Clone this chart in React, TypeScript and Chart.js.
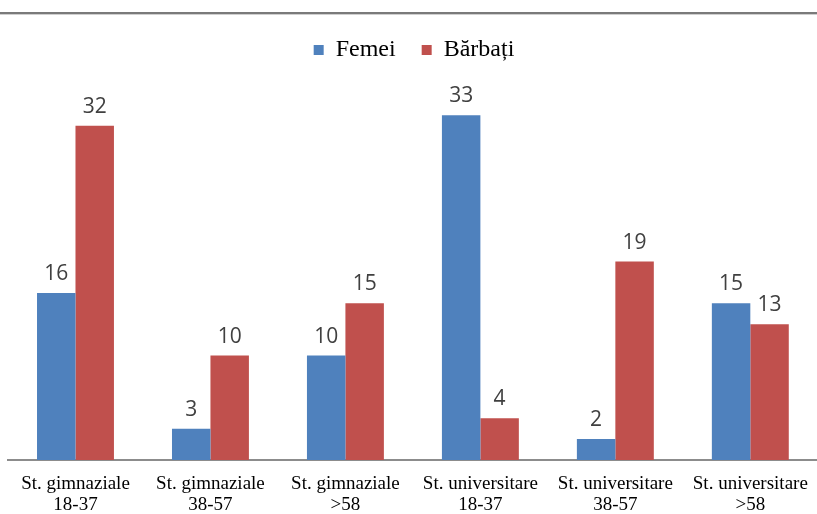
import { useEffect, useRef } from "react";
import { Chart, registerables } from "chart.js";

Chart.register(...registerables);

const categories: string[][] = [
  ["St. gimnaziale", "18-37"],
  ["St. gimnaziale", "38-57"],
  ["St. gimnaziale", ">58"],
  ["St. universitare", "18-37"],
  ["St. universitare", "38-57"],
  ["St. universitare", ">58"],
];
const seriesNames = ["Femei", "Bărbați"];
const femei = [16, 3, 10, 33, 2, 15];
const barbati = [32, 10, 15, 4, 19, 13];

const valueLabels = {
  id: "valueLabels",
  afterDatasetsDraw(chart: any) {
    const ctx = chart.ctx;
    ctx.save();
    ctx.font = '21px "Open Sans"';
    ctx.fillStyle = "#404040";
    ctx.textAlign = "center";
    ctx.textBaseline = "alphabetic";
    chart.data.datasets.forEach((ds: any, i: number) => {
      const meta = chart.getDatasetMeta(i);
      meta.data.forEach((el: any, j: number) => {
        ctx.fillText(String(ds.data[j]), el.x, el.y - 13);
      });
    });
    ctx.restore();
  },
};

export default function App() {
  const ref = useRef<HTMLCanvasElement | null>(null);
  useEffect(() => {
    document.body.style.margin = "0";
    if (!ref.current) return;
    const chart = new Chart(ref.current, {
      type: "bar",
      data: {
        labels: categories,
        datasets: [
          {
            label: seriesNames[0],
            data: femei,
            backgroundColor: "#4F81BD",
            borderWidth: 0,
            categoryPercentage: 0.57,
            barPercentage: 1,
          },
          {
            label: seriesNames[1],
            data: barbati,
            backgroundColor: "#C0504D",
            borderWidth: 0,
            categoryPercentage: 0.57,
            barPercentage: 1,
          },
        ],
      },
      options: {
        responsive: false,
        animation: false,
        devicePixelRatio: 1,
        layout: { padding: { top: 12, left: 8, right: 2, bottom: 0 } },
        plugins: {
          legend: {
            position: "top",
            labels: {
              boxWidth: 10,
              boxHeight: 10,
              padding: 26,
              color: "#000",
              font: { family: '"Liberation Serif"', size: 24 },
            },
          },
          tooltip: { enabled: false },
        },
        scales: {
          x: {
            grid: { display: false, drawTicks: false },
            border: { display: true, color: "#8c8c8c", width: 2 },
            ticks: {
              color: "#000",
              padding: 14,
              font: { family: '"Liberation Serif"', size: 19, lineHeight: "21px" },
            },
          },
          y: { display: false, min: 0, max: 37.15 },
        },
      },
      plugins: [valueLabels],
    });
    return () => chart.destroy();
  }, []);
  return (
    <div style={{ position: "relative", width: 817, height: 514, overflow: "hidden", background: "#fff" }}>
      <canvas ref={ref} width={822} height={530} style={{ display: "block" }} />
      <div style={{ position: "absolute", left: 0, top: 12, width: 817, height: 2, background: "#7a7a7a" }} />
      <div style={{ position: "absolute", left: 0, top: 14, width: 817, height: 1, background: "#cfcfcf" }} />
    </div>
  );
}
